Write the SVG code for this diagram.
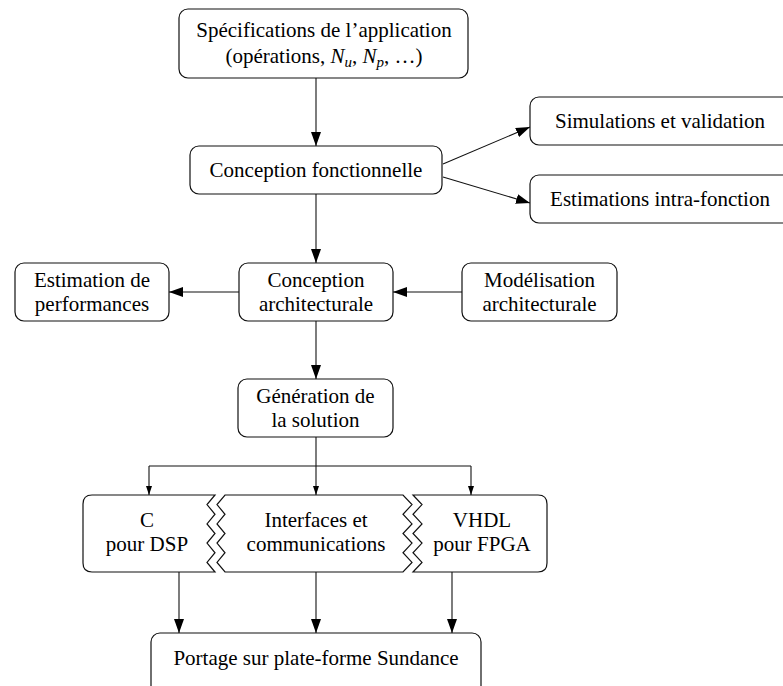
<svg xmlns="http://www.w3.org/2000/svg" width="783" height="686" viewBox="0 0 783 686">
<style>
.box{fill:#fff;stroke:#111;stroke-width:1.2}
.t{font-family:"Liberation Serif","Times New Roman",serif;font-size:21px;fill:#000;text-anchor:middle}
.ln{fill:none;stroke:#111;stroke-width:1.1}
</style>
<defs>
<marker id="ah" markerWidth="14" markerHeight="10" refX="14" refY="5" orient="auto" markerUnits="userSpaceOnUse">
<path d="M0,0 L14,5 L0,10 Z" fill="#000"/>
</marker>
<marker id="as" markerWidth="9" markerHeight="6" refX="9" refY="3" orient="auto" markerUnits="userSpaceOnUse">
<path d="M0,0 L9,3 L0,6 Z" fill="#000"/>
</marker>
</defs>
<rect width="783" height="686" fill="#fff"/>
<g id="connectors">
<line class="ln" x1="316" y1="78" x2="316" y2="146" marker-end="url(#ah)"/>
<line class="ln" x1="443" y1="164" x2="530" y2="127" marker-end="url(#ah)"/>
<line class="ln" x1="443" y1="177" x2="530" y2="203" marker-end="url(#ah)"/>
<line class="ln" x1="316" y1="194" x2="316" y2="263" marker-end="url(#ah)"/>
<line class="ln" x1="239" y1="292" x2="169" y2="292" marker-end="url(#ah)"/>
<line class="ln" x1="462" y1="292" x2="393" y2="292" marker-end="url(#ah)"/>
<line class="ln" x1="316" y1="321" x2="316" y2="379" marker-end="url(#ah)"/>
<line class="ln" x1="316" y1="437" x2="316" y2="495" marker-end="url(#as)"/>
<line class="ln" x1="149" y1="466" x2="471" y2="466"/>
<line class="ln" x1="149" y1="466" x2="149" y2="495" marker-end="url(#as)"/>
<line class="ln" x1="471" y1="466" x2="471" y2="495" marker-end="url(#as)"/>
<line class="ln" x1="179" y1="572" x2="179" y2="633" marker-end="url(#ah)"/>
<line class="ln" x1="316" y1="572" x2="316" y2="633" marker-end="url(#ah)"/>
<line class="ln" x1="452" y1="572" x2="452" y2="633" marker-end="url(#ah)"/>
</g>
<g id="specs">
<rect class="box" x="179" y="9" width="289" height="69" rx="9"/>
<text class="t" x="324" y="37">Spécifications de l’application</text>
<text class="t" x="324" y="63">(opérations, <tspan font-style="italic">N</tspan><tspan font-style="italic" font-size="15" dy="4">u</tspan><tspan dy="-4">, </tspan><tspan font-style="italic">N</tspan><tspan font-style="italic" font-size="15" dy="4">p</tspan><tspan dy="-4">, …)</tspan></text>
</g>
<g id="conception-fonctionnelle">
<rect class="box" x="190" y="146" width="252" height="48" rx="9"/>
<text class="t" x="316" y="177">Conception fonctionnelle</text>
</g>
<g id="simulations">
<rect class="box" x="530" y="97" width="262" height="48" rx="9"/>
<text class="t" x="660" y="128">Simulations et validation</text>
</g>
<g id="estimations-intra">
<rect class="box" x="530" y="175" width="262" height="48" rx="9"/>
<text class="t" x="660" y="206">Estimations intra-fonction</text>
</g>
<g id="estimation-perf">
<rect class="box" x="15" y="263" width="154" height="58" rx="9"/>
<text class="t" x="92" y="287">Estimation de</text>
<text class="t" x="92" y="311">performances</text>
</g>
<g id="conception-archi">
<rect class="box" x="239" y="263" width="154" height="58" rx="9"/>
<text class="t" x="316" y="287">Conception</text>
<text class="t" x="316" y="311">architecturale</text>
</g>
<g id="modelisation">
<rect class="box" x="462" y="263" width="155" height="58" rx="9"/>
<text class="t" x="539.5" y="287">Modélisation</text>
<text class="t" x="539.5" y="311">architecturale</text>
</g>
<g id="generation">
<rect class="box" x="238" y="379" width="155" height="58" rx="9"/>
<text class="t" x="315.5" y="403">Génération de</text>
<text class="t" x="315.5" y="427">la solution</text>
</g>
<g id="c-dsp">
<path class="box" d="M215,495 L92,495 Q83,495 83,504 L83,563 Q83,572 92,572 L215,572 L207,562.4 L215,552.75 L207,543.1 L215,533.5 L207,523.9 L215,514.25 L207,504.6 Z"/>
<text class="t" x="147" y="527">C</text>
<text class="t" x="147" y="551">pour DSP</text>
</g>
<g id="interfaces">
<path class="box" d="M225,495 L403,495 L412,504.6 L403,514.25 L412,523.9 L403,533.5 L412,543.1 L403,552.75 L412,562.4 L403,572 L225,572 L217,562.4 L225,552.75 L217,543.1 L225,533.5 L217,523.9 L225,514.25 L217,504.6 Z"/>
<text class="t" x="316" y="527">Interfaces et</text>
<text class="t" x="316" y="551">communications</text>
</g>
<g id="vhdl">
<path class="box" d="M413,495 L538,495 Q547,495 547,504 L547,563 Q547,572 538,572 L413,572 L422,562.4 L413,552.75 L422,543.1 L413,533.5 L422,523.9 L413,514.25 L422,504.6 Z"/>
<text class="t" x="482" y="527">VHDL</text>
<text class="t" x="482" y="551">pour FPGA</text>
</g>
<g id="portage">
<rect class="box" x="151" y="633" width="330" height="70" rx="9"/>
<text class="t" x="316" y="665">Portage sur plate-forme Sundance</text>
</g>
</svg>
